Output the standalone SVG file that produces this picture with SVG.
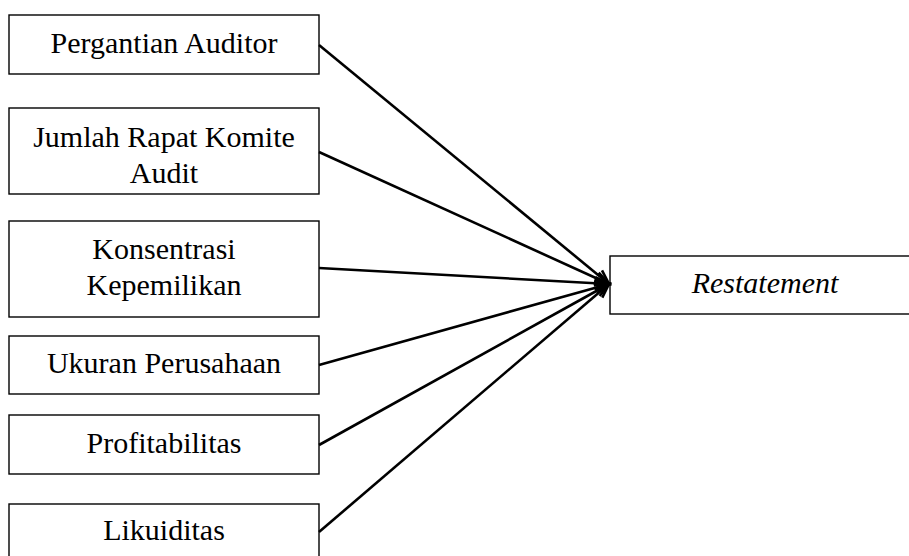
<svg xmlns="http://www.w3.org/2000/svg" width="909" height="556" viewBox="0 0 909 556">
<style>
.box{fill:#fff;stroke:#000;stroke-width:1.4}
.t{font-family:"Liberation Serif","Times New Roman",serif;font-size:30px;fill:#000;text-anchor:middle}
.it{font-style:italic}
.c{stroke:#000;stroke-width:2.6;fill:none;marker-end:url(#ah)}
</style>
<defs>
<marker id="ah" markerUnits="userSpaceOnUse" markerWidth="18" markerHeight="16" refX="15" refY="7" orient="auto" viewBox="0 0 18 14">
<path d="M1,1 L15,7 L1,13" fill="none" stroke="#000" stroke-width="2.6"/>
</marker>
</defs>
<g id="n1"><rect class="box" x="9" y="15" width="310" height="59"/><text class="t" x="164" y="53">Pergantian Auditor</text></g>
<g id="n2"><rect class="box" x="9" y="108" width="310" height="86"/><text class="t" x="164" y="147">Jumlah Rapat Komite</text><text class="t" x="164" y="183">Audit</text></g>
<g id="n3"><rect class="box" x="9" y="221" width="310" height="96"/><text class="t" x="164" y="259">Konsentrasi</text><text class="t" x="164" y="295">Kepemilikan</text></g>
<g id="n4"><rect class="box" x="9" y="336" width="310" height="58"/><text class="t" x="164" y="373">Ukuran Perusahaan</text></g>
<g id="n5"><rect class="box" x="9" y="415" width="310" height="59"/><text class="t" x="164" y="453">Profitabilitas</text></g>
<g id="n6"><rect class="box" x="9" y="504" width="310" height="70"/><text class="t" x="164" y="540">Likuiditas</text></g>
<g id="n7"><rect class="box" x="610" y="256" width="310" height="58"/><text class="t it" x="765" y="293">Restatement</text></g>
<g id="connectors">
<line class="c" x1="319" y1="45" x2="609" y2="284"/>
<line class="c" x1="319" y1="152" x2="609" y2="284"/>
<line class="c" x1="319" y1="268" x2="609" y2="284"/>
<line class="c" x1="319" y1="365" x2="609" y2="284"/>
<line class="c" x1="319" y1="445" x2="609" y2="284"/>
<line class="c" x1="319" y1="532" x2="609" y2="284"/>
</g>
</svg>
